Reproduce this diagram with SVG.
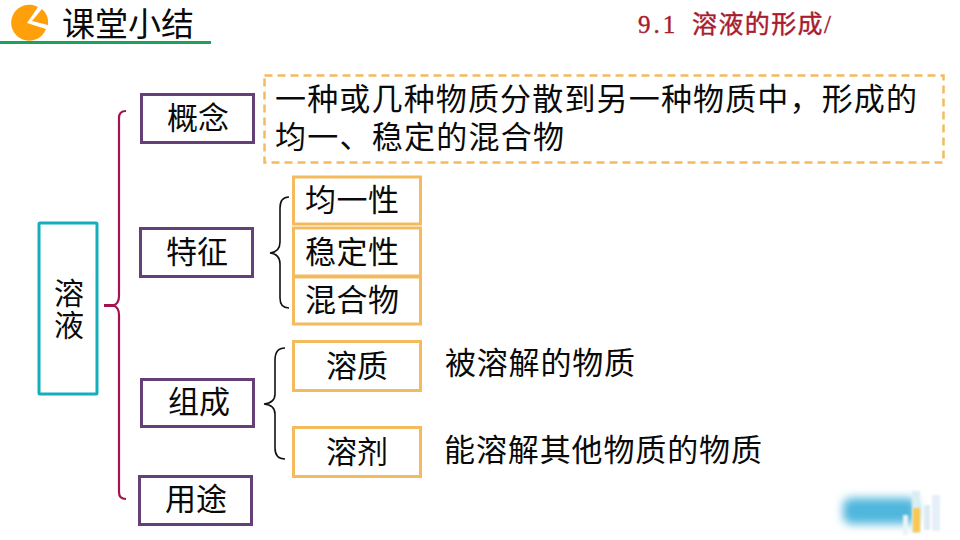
<svg xmlns="http://www.w3.org/2000/svg" width="960" height="540" viewBox="0 0 960 540">
<style>
text{font-family:"Liberation Serif","Noto Sans CJK SC",serif;fill:#0a0a0a;font-size:31px}
.p{fill:#fff;stroke:#643f78;stroke-width:3}
.o{fill:#fff;stroke:#f4bb5e;stroke-width:3}
.b{fill:none;stroke:#111;stroke-width:1.6}
.m{text-anchor:middle}
</style>
<defs>
<filter id="blur" x="-30%" y="-60%" width="160%" height="220%"><feGaussianBlur stdDeviation="5"/></filter>
<filter id="blur2" x="-50%" y="-20%" width="200%" height="140%"><feGaussianBlur stdDeviation="1.2"/></filter>
</defs>
<rect width="960" height="540" fill="#fff"/>
<g id="header">
<rect x="0" y="41" width="211" height="3" fill="#1ba25c"/>
<path d="M27 23 L38 7 A18 18 0 1 0 46 29 Z" fill="#ff9f0a"/>
<path d="M32 21 L42 9 A18 18 0 0 1 48 25 Z" fill="#ff9f0a"/>
<text id="title" x="62" y="36" style="font-size:33px" textLength="132">课堂小结</text>
<text id="section" y="33" style="font-size:25px;fill:#a81c2e" stroke="#a81c2e" stroke-width="0.4"><tspan x="638" letter-spacing="3">9.1</tspan><tspan x="692" letter-spacing="1.400">溶液的形成/</tspan></text>
</g>
<g id="connectors">
<path d="M104 305.500 H115" fill="none" stroke="#a3144f" stroke-width="3"/>
<path d="M126 111 Q119 111 119 118 L119 296 Q119 304 113 305.500 Q119 307 119 315 L119 492 Q119 499 126 499" fill="none" stroke="#a3144f" stroke-width="2.2"/>
<path class="b" d="M289 197 Q280 197 280 208 V242 Q280 252 270 253 Q280 254 280 264 V298 Q280 308 289 308"/>
<path class="b" d="M285 348 Q275 348 275 360 V394 Q275 403 264 404 Q275 405 275 414 V448 Q275 459 285 459"/>
</g>
<g id="node-rongye"><rect x="39" y="223" width="58" height="171" rx="1" fill="#fff" stroke="#14aebd" stroke-width="3"/><text class="m" x="69" y="304" style="font-size:30px">溶</text><text class="m" x="69" y="336" style="font-size:30px">液</text></g>
<g id="node-gainian"><rect class="p" x="141.500" y="94.500" width="112" height="48"/><text class="m" x="198" y="129">概念</text></g>
<g id="node-tezheng"><rect class="p" x="140.500" y="228.500" width="112" height="48"/><text class="m" x="197" y="263">特征</text></g>
<g id="node-zucheng"><rect class="p" x="141.500" y="379.500" width="112" height="47"/><text class="m" x="199" y="413">组成</text></g>
<g id="node-yongtu"><rect class="p" x="139.500" y="476.500" width="112" height="48"/><text class="m" x="196" y="510">用途</text></g>
<g id="node-definition"><rect x="264.500" y="75.500" width="679" height="87" fill="#fff" stroke="#f4bb5e" stroke-width="2.500" stroke-dasharray="8 5"/><text x="275" y="110" textLength="642">一种或几种物质分散到另一种物质中，形成的</text><text x="275" y="148" textLength="289">均一、稳定的混合物</text></g>
<g id="node-junyi"><rect class="o" x="293.500" y="177" width="127" height="47"/><text x="305" y="211" textLength="94">均一性</text></g>
<g id="node-wending"><rect class="o" x="293.500" y="228" width="127" height="48"/><text x="305" y="263" textLength="94">稳定性</text></g>
<g id="node-hunhe"><rect class="o" x="293.500" y="277" width="127" height="47"/><text x="305" y="311" textLength="94">混合物</text></g>
<g id="node-rongzhi"><rect class="o" x="293.500" y="341.500" width="127" height="49"/><text class="m" x="357" y="377">溶质</text></g>
<g id="node-rongji"><rect class="o" x="293.500" y="427.500" width="127" height="49"/><text class="m" x="357" y="463">溶剂</text></g>
<g id="labels">
<text x="445" y="374" textLength="190">被溶解的物质</text>
<text x="444" y="461" textLength="318">能溶解其他物质的物质</text>
</g>
<g id="logo">
<rect x="843" y="498" width="74" height="26" rx="8" fill="#4fb6dc" filter="url(#blur)"/>
<rect x="912" y="491" width="8" height="42" fill="#d8eef5" filter="url(#blur2)"/>
<rect x="913" y="508" width="7" height="24" fill="#fbc74f" filter="url(#blur2)"/>
<rect x="903" y="515" width="5" height="20" fill="#e9f4f6" filter="url(#blur2)"/>
<rect x="924" y="505" width="6" height="25" fill="#dcebf3" filter="url(#blur2)"/>
<rect x="932" y="495" width="8" height="36" fill="#e5eff7" filter="url(#blur2)"/>
</g>
</svg>
